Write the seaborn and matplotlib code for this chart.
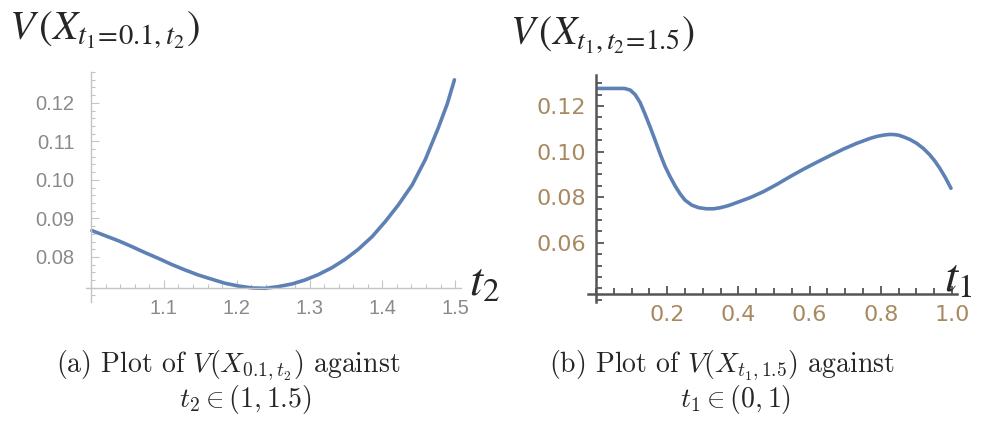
import matplotlib
matplotlib.use("Agg")
import matplotlib.pyplot as plt
import seaborn as sns
from matplotlib.ticker import MultipleLocator, FixedLocator, FixedFormatter

# ---------------- data ----------------
t2_values = [1.001, 1.019, 1.038, 1.056, 1.074, 1.093, 1.111, 1.129, 1.147,
             1.166, 1.184, 1.202, 1.221, 1.239, 1.257, 1.276, 1.294, 1.312,
             1.331, 1.349, 1.367, 1.386, 1.404, 1.422, 1.441, 1.459, 1.477,
             1.489, 1.499]
v_left = [0.08684, 0.08554, 0.08416, 0.08268, 0.08112, 0.07957, 0.07801, 0.07662,
          0.07532, 0.07420, 0.07316, 0.07247, 0.07195, 0.07186, 0.07229, 0.07299,
          0.07403, 0.07541, 0.07723, 0.07939, 0.08199, 0.08528, 0.08918, 0.09351,
          0.09870, 0.10528, 0.11359, 0.11965, 0.12597]

t1_values = [0.007, 0.040, 0.080, 0.096, 0.110, 0.124, 0.138, 0.152, 0.166, 0.180,
             0.194, 0.208, 0.222, 0.236, 0.250, 0.269, 0.288, 0.310, 0.330, 0.350,
             0.372, 0.395, 0.433, 0.470, 0.508, 0.545, 0.582, 0.620, 0.657, 0.695,
             0.732, 0.770, 0.790, 0.807, 0.822, 0.835, 0.850, 0.863, 0.882, 0.901,
             0.920, 0.938, 0.952, 0.966, 0.982, 0.997]
v_right = [0.1277, 0.1277, 0.1277, 0.1270, 0.1250, 0.1215, 0.1163, 0.1108, 0.1050,
           0.0990, 0.0935, 0.0890, 0.0850, 0.0815, 0.0787, 0.0765, 0.0754, 0.0749,
           0.0749, 0.0754, 0.0763, 0.0776, 0.0798, 0.0824, 0.0856, 0.0890, 0.0922,
           0.0953, 0.0982, 0.1011, 0.1036, 0.1058, 0.1067, 0.1072, 0.1075, 0.1075,
           0.1072, 0.1065, 0.1053, 0.1036, 0.1013, 0.0985, 0.0958, 0.0926, 0.0884,
           0.0839]

left_xticks = [1.1, 1.2, 1.3, 1.4, 1.5]
left_xticklabels = ["1.1", "1.2", "1.3", "1.4", "1.5"]
left_yticks = [0.08, 0.09, 0.10, 0.11, 0.12]
left_yticklabels = ["0.08", "0.09", "0.10", "0.11", "0.12"]
right_xticks = [0.2, 0.4, 0.6, 0.8, 1.0]
right_xticklabels = ["0.2", "0.4", "0.6", "0.8", "1.0"]
right_yticks = [0.06, 0.08, 0.10, 0.12]
right_yticklabels = ["0.06", "0.08", "0.10", "0.12"]

left_title = r"$V\,(X_{t_1\!=\!0.1,t_2})$"
right_title = r"$V\,(X_{t_1,t_2\!=\!1.5})$"
left_xlabel = r"$t_2$"
right_xlabel = r"$t_1$"
cap_a = [r"(a) Plot of $V(X_{0.1,t_2})$ against", r"$t_2 \in (1, 1.5)$"]
cap_b = [r"(b) Plot of $V(X_{t_1,1.5})$ against", r"$t_1 \in (0, 1)$"]

# ---------------- style ----------------
sns.set_style("white")
LINE = "#5E81B5"
W, H = 996, 421

fig = plt.figure(figsize=(W / 100, H / 100), dpi=100)
fig.patch.set_facecolor("white")


def fx(x):
    return x / W


def fy(y):
    return 1 - y / H


axL = fig.add_axes([fx(86), fy(302), 375 / W, 230 / H])
axR = fig.add_axes([fx(588), fy(302), 369 / W, 227 / H])

sns.lineplot(x=t2_values, y=v_left, ax=axL, color=LINE, linewidth=2.6)
sns.lineplot(x=t1_values, y=v_right, ax=axR, color=LINE, linewidth=2.6)

# left panel (light Mathematica axes)
axL.set_xlim(0.993, 1.508)
axL.set_ylim(0.0683, 0.128)
for s in ("top", "right"):
    axL.spines[s].set_visible(False)
axL.spines["left"].set_position(("data", 1.0))
axL.spines["bottom"].set_position(("data", 0.0719))
for s in ("left", "bottom"):
    axL.spines[s].set_color("#c4c4c4")
    axL.spines[s].set_linewidth(1.0)
axL.xaxis.set_major_locator(FixedLocator(left_xticks))
axL.xaxis.set_major_formatter(FixedFormatter(left_xticklabels))
axL.yaxis.set_major_locator(FixedLocator(left_yticks))
axL.yaxis.set_major_formatter(FixedFormatter(left_yticklabels))
axL.xaxis.set_minor_locator(MultipleLocator(0.02))
axL.yaxis.set_minor_locator(MultipleLocator(0.002))
axL.tick_params(which="both", direction="in", color="#c4c4c4", width=0.8,
                labelcolor="#8a8a8a", labelsize=14.5,
                labelfontfamily="Liberation Sans",
                bottom=True, left=True)
axL.tick_params(which="major", length=6)
axL.tick_params(which="minor", length=3)
axL.tick_params(axis="x", pad=8)
axL.tick_params(axis="y", pad=12)
axL.set_xlabel("")
axL.set_ylabel("")

# right panel (dark axes)
axR.set_xlim(-0.0225, 1.014)
axR.set_ylim(0.034, 0.1336)
for s in ("top", "right"):
    axR.spines[s].set_visible(False)
axR.spines["left"].set_position(("data", 0.0))
axR.spines["bottom"].set_position(("data", 0.0375))
for s in ("left", "bottom"):
    axR.spines[s].set_color("#555555")
    axR.spines[s].set_linewidth(1.8)
axR.xaxis.set_major_locator(FixedLocator(right_xticks))
axR.xaxis.set_major_formatter(FixedFormatter(right_xticklabels))
axR.yaxis.set_major_locator(FixedLocator(right_yticks))
axR.yaxis.set_major_formatter(FixedFormatter(right_yticklabels))
axR.xaxis.set_minor_locator(MultipleLocator(0.05))
axR.yaxis.set_minor_locator(MultipleLocator(0.005))
axR.tick_params(which="both", direction="in", color="#555555", width=1.3,
                labelcolor="#a88a62", labelsize=16, labelfontfamily="DejaVu Sans",
                bottom=True, left=True)
axR.tick_params(which="major", length=6)
axR.tick_params(which="minor", length=4)
axR.tick_params(axis="x", pad=8)
axR.tick_params(axis="y", pad=7)
axR.set_xlabel("")
axR.set_ylabel("")

for ax in (axL, axR):
    ax.set_facecolor("none")
    ax.grid(False)

# titles and axis labels
fig.text(fx(9), fy(40), left_title, math_fontfamily="stix", fontsize=29.5,
         ha="left", va="baseline")
fig.text(fx(510), fy(45), right_title, math_fontfamily="stix", fontsize=28.5,
         ha="left", va="baseline")
fig.text(fx(469), fy(296), left_xlabel, math_fontfamily="stix", fontsize=34,
         ha="left", va="baseline")
fig.text(fx(944), fy(292), right_xlabel, math_fontfamily="stix", fontsize=34,
         ha="left", va="baseline")

# captions
for (c1, c2, lines) in ((228, 245, cap_a), (722, 736, cap_b)):
    fig.text(fx(c1), fy(372), lines[0], family="cmr10", math_fontfamily="cm",
             fontsize=20, ha="center", va="baseline")
    fig.text(fx(c2), fy(407), lines[1], family="cmr10", math_fontfamily="cm",
             fontsize=20, ha="center", va="baseline")

fig.savefig("out.png", dpi=100, facecolor="white")
